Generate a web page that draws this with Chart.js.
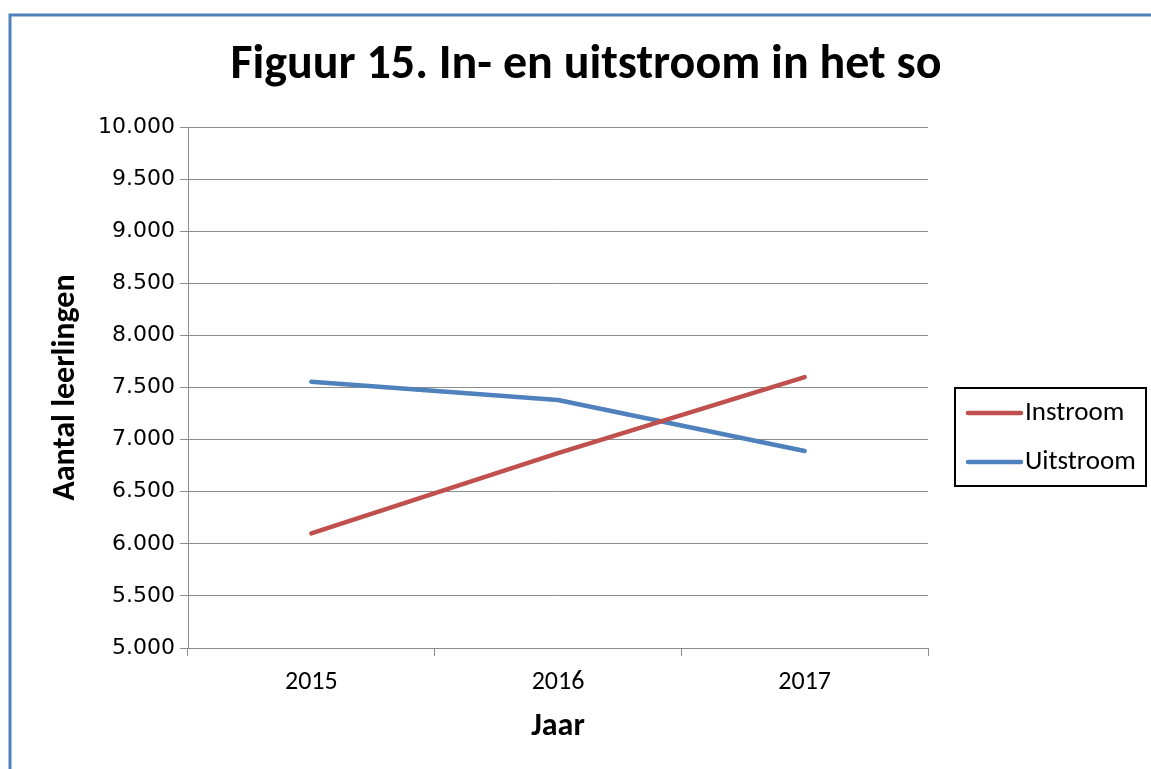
<!DOCTYPE html>
<html><head><meta charset="utf-8">
<script src="https://cdn.jsdelivr.net/npm/chart.js@4"></script>
<style>html,body{margin:0;padding:0;background:#fff;overflow:hidden}#wrap{position:relative;width:1151px;height:769px}</style>
</head><body><div id="wrap"><canvas id="c" width="1151" height="769"></canvas></div>
<script>
// ---- data ----
const years = ['2015', '2016', '2017'];
const instroom = [6100, 6870, 7600];
const uitstroom = [7555, 7380, 6890];
const seriesNames = ['Instroom', 'Uitstroom'];
const yTicks = [5000, 5500, 6000, 6500, 7000, 7500, 8000, 8500, 9000, 9500, 10000];
const chartTitle = 'Figuur 15. In- en uitstroom in het so';
const xTitle = 'Jaar';
const yTitle = 'Aantal leerlingen';

// ---- style ----
const RED = '#C0504D', BLUE = '#4F81BD', GRID = '#8C8C8C';
const CAL = 'Carlito, Lato, "Open Sans", sans-serif';
const VER = '"DejaVu Sans", Verdana, sans-serif';

function fmt(v) {
  const th = Math.floor(v / 1000), rest = String(Math.round(v % 1000)).padStart(3, '0');
  return th + '.' + rest;
}

const decor = {
  id: 'decor',
  beforeDraw(chart) {
    const ctx = chart.ctx;
    ctx.save();
    ctx.fillStyle = '#fff';
    ctx.fillRect(0, 0, chart.width, chart.height);
    ctx.strokeStyle = '#4F81BD';
    ctx.lineWidth = 3;
    ctx.beginPath();
    ctx.moveTo(10, chart.height);
    ctx.lineTo(10, 15);
    ctx.lineTo(chart.width, 15);
    ctx.stroke();
    ctx.restore();
  },
  afterDraw(chart) {
    const ctx = chart.ctx;
    ctx.save();
    // title
    ctx.fillStyle = '#000';
    ctx.font = 'bold 48px ' + CAL;
    ctx.textAlign = 'center';
    ctx.textBaseline = 'middle';
    ctx.fillText(chartTitle, 586, 66);
    // legend
    const bx = 955, by = 388, bw = 191, bh = 98;
    ctx.strokeStyle = '#000';
    ctx.lineWidth = 2;
    ctx.strokeRect(bx, by, bw, bh);
    ctx.font = '27px ' + CAL;
    ctx.textAlign = 'left';
    chart.data.datasets.forEach((ds, i) => {
      const yy = by + 25 + i * 49;
      ctx.strokeStyle = ds.borderColor;
      ctx.lineWidth = 4.5;
      ctx.lineCap = 'round';
      ctx.beginPath();
      ctx.moveTo(968, yy);
      ctx.lineTo(1021, yy);
      ctx.stroke();
      ctx.fillStyle = '#000';
      ctx.fillText(ds.label, 1025, yy);
    });
    ctx.restore();
  }
};

new Chart(document.getElementById('c'), {
  type: 'line',
  data: {
    labels: years,
    datasets: [
      { label: seriesNames[0], data: instroom, borderColor: RED, backgroundColor: RED },
      { label: seriesNames[1], data: uitstroom, borderColor: BLUE, backgroundColor: BLUE }
    ]
  },
  options: {
    responsive: false,
    animation: false,
    devicePixelRatio: 1,
    layout: { padding: { left: 0, top: 127, right: 223, bottom: 0 } },
    elements: {
      line: { borderWidth: 4.5, tension: 0, borderCapStyle: 'round', borderJoinStyle: 'round' },
      point: { radius: 0, hoverRadius: 0 }
    },
    plugins: { legend: { display: false }, title: { display: false }, tooltip: { enabled: false } },
    scales: {
      x: {
        type: 'category',
        offset: true,
        afterFit(s) { s.height = 121; },
        grid: { offset: true, drawOnChartArea: false, drawTicks: true, tickLength: 8, color: GRID, lineWidth: 1 },
        border: { display: true, color: GRID, width: 1 },
        ticks: { color: '#000', font: { family: CAL, size: 26 }, padding: 11, maxRotation: 0 },
        title: { display: true, text: xTitle, color: '#000', font: { family: CAL, size: 32, weight: 'bold' }, padding: { top: 0, bottom: 23 } }
      },
      y: {
        min: 5000, max: 10000,
        afterFit(s) { s.width = 188; },
        afterBuildTicks(s) { s.ticks = yTicks.map(v => ({ value: v })); },
        grid: { color: GRID, lineWidth: 1, drawTicks: true, tickLength: 8 },
        border: { display: true, color: GRID, width: 1 },
        ticks: { color: '#000', font: { family: VER, size: 22 }, padding: 5, callback: v => fmt(v) },
        title: { display: true, text: yTitle, color: '#000', font: { family: CAL, size: 32, weight: 'bold' }, padding: { top: 47, bottom: 0 } }
      }
    }
  },
  plugins: [decor]
});
</script></body></html>
